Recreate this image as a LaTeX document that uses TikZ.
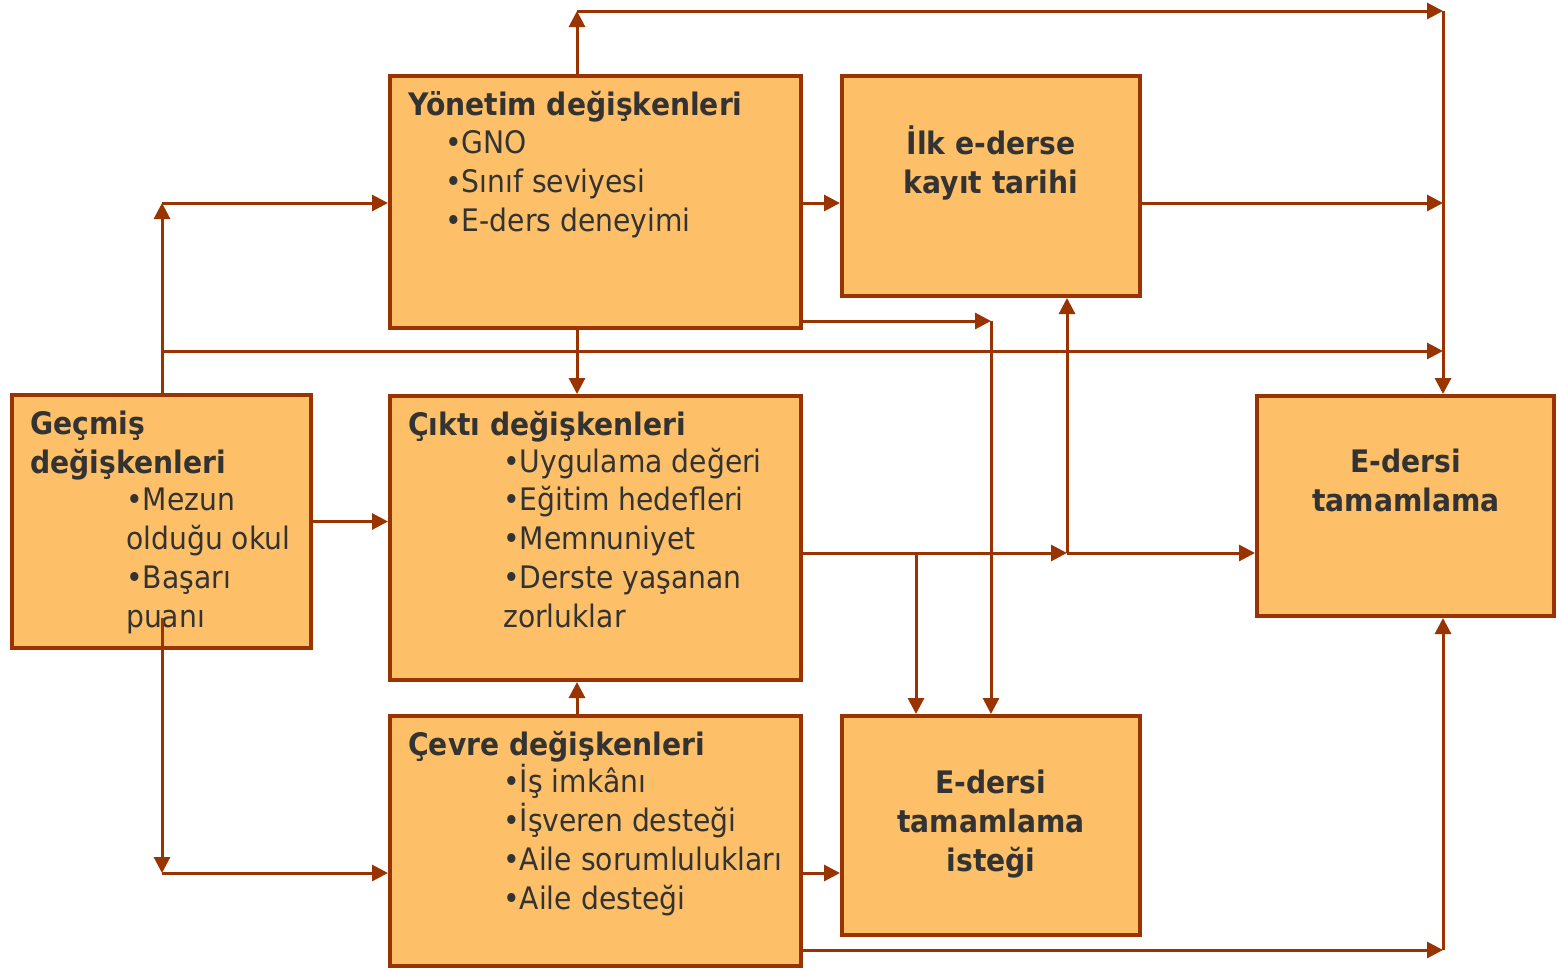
\documentclass[tikz,border=0pt]{standalone}
\usepackage{fontspec}
\setmainfont{DejaVu Sans}[FakeStretch=0.91]
\usetikzlibrary{arrows.meta}
\definecolor{boxfill}{HTML}{FDC068}
\definecolor{boxline}{HTML}{993300}
\definecolor{txtgray}{HTML}{333333}
\tikzset{
  box/.style={draw=boxline, fill=boxfill, line width=4pt, inner sep=0pt},
  conn/.style={draw=boxline, line width=3pt, -{Triangle[length=16pt,width=16pt]}},
  ttl/.style={font=\bfseries\fontsize{31}{38.7}\selectfont, text=txtgray, anchor=base west, inner sep=0pt, align=left},
  itm/.style={font=\fontsize{31}{38.7}\selectfont, text=txtgray, anchor=base west, inner sep=0pt, align=left},
  ctr/.style={font=\bfseries\fontsize{31}{38.7}\selectfont, text=txtgray, anchor=base, inner sep=0pt, align=center},
}

\begin{document}
\begin{tikzpicture}[x=1pt, y=-1pt]
    \useasboundingbox (0,0) rectangle (1558,970);
    % Boxes
    \node[box, minimum width=299, minimum height=253] (gec) at (161.5,521.5) {};
    \node[box, minimum width=411, minimum height=252] (yon) at (595.5,202) {};
    \node[box, minimum width=298, minimum height=220] (ilk) at (991,186) {};
    \node[box, minimum width=411, minimum height=284] (cik) at (595.5,538) {};
    \node[box, minimum width=411, minimum height=250] (cev) at (595.5,841) {};
    \node[box, minimum width=298, minimum height=219] (ist) at (991,825.5) {};
    \node[box, minimum width=297, minimum height=220] (ed) at (1405.5,506) {};
    % Texts (multi-line nodes sit on their last baseline)
    \node[ttl] (yont) at (408,115) {Yönetim değişkenleri};
    \node[itm] (yonb) at (445,231) {•GNO\\•Sınıf seviyesi\\•E-ders deneyimi};
    \node[ctr] (ilkt) at (991,193) {İlk e-derse\\kayıt tarihi};
    \node[ttl] (gect) at (30,473) {Geçmiş\\değişkenleri};
    \node[itm] (gecb) at (126,627) {•Mezun\\olduğu okul\\•Başarı\\puanı};
    \node[ttl] (cikt) at (408,435) {Çıktı değişkenleri};
    \node[itm] (cikb) at (503,627) {•Uygulama değeri\\•Eğitim hedefleri\\•Memnuniyet\\•Derste yaşanan\\zorluklar};
    \node[ttl] (cevt) at (408,755) {Çevre değişkenleri};
    \node[itm] (cevb) at (503,909) {•İş imkânı\\•İşveren desteği\\•Aile sorumlulukları\\•Aile desteği};
    \node[ctr] (istt) at (991,871) {E-dersi\\tamamlama\\isteği};
    \node[ctr] (edt) at (1406,511) {E-dersi\\tamamlama};
    % Bends
    \coordinate (tl) at (577,11);
    \coordinate (tr) at (1443,11);
    \coordinate (ga) at (162,203);
    \coordinate (ml) at (162,351);
    \coordinate (mr) at (1443,351);
    \coordinate (yr) at (991,321);
    \coordinate (ck) at (1067,553);
    \coordinate (cb) at (916,553);
    \coordinate (gb) at (162,618);
    \coordinate (gd) at (162,873);
    \coordinate (br) at (1443,950);
    % Connectors
    \draw[conn] (yon.north -| tl) -- (tl);
    \draw[conn] (tl) -- (tr);
    \draw[conn] (tr) -- (ed.north -| tr);
    \draw[conn] (gec.north -| ga) -- (ga);
    \draw[conn] (ga) -- (ga -| yon.west);
    \draw[conn] (ml) -- (mr);
    \draw[conn] (yon.east |- ga) -- (ilk.west |- ga);
    \draw[conn] (ilk.east |- ga) -- (ga -| tr);
    \draw[conn] (yon.east |- yr) -- (yr);
    \draw[conn] (yr) -- (ist.north -| yr);
    \draw[conn] (yon.south -| tl) -- (cik.north -| tl);
    \draw[conn] (gec.east) -- (gec.east -| cik.west);
    \draw[conn] (cik.east |- ck) -- (ck);
    \draw[conn] (ck) -- (ilk.south -| ck);
    \draw[conn] (ck) -- (ed.west |- ck);
    \draw[conn] (cb) -- (ist.north -| cb);
    \draw[conn] (cev.north -| tl) -- (cik.south -| tl);
    \draw[conn] (gb) -- (gd);
    \draw[conn] (gd) -- (gd -| cev.west);
    \draw[conn] (cev.east |- gd) -- (gd -| ist.west);
    \draw[conn] (cev.east |- br) -- (br);
    \draw[conn] (br) -- (ed.south -| br);
\end{tikzpicture}
\end{document}
